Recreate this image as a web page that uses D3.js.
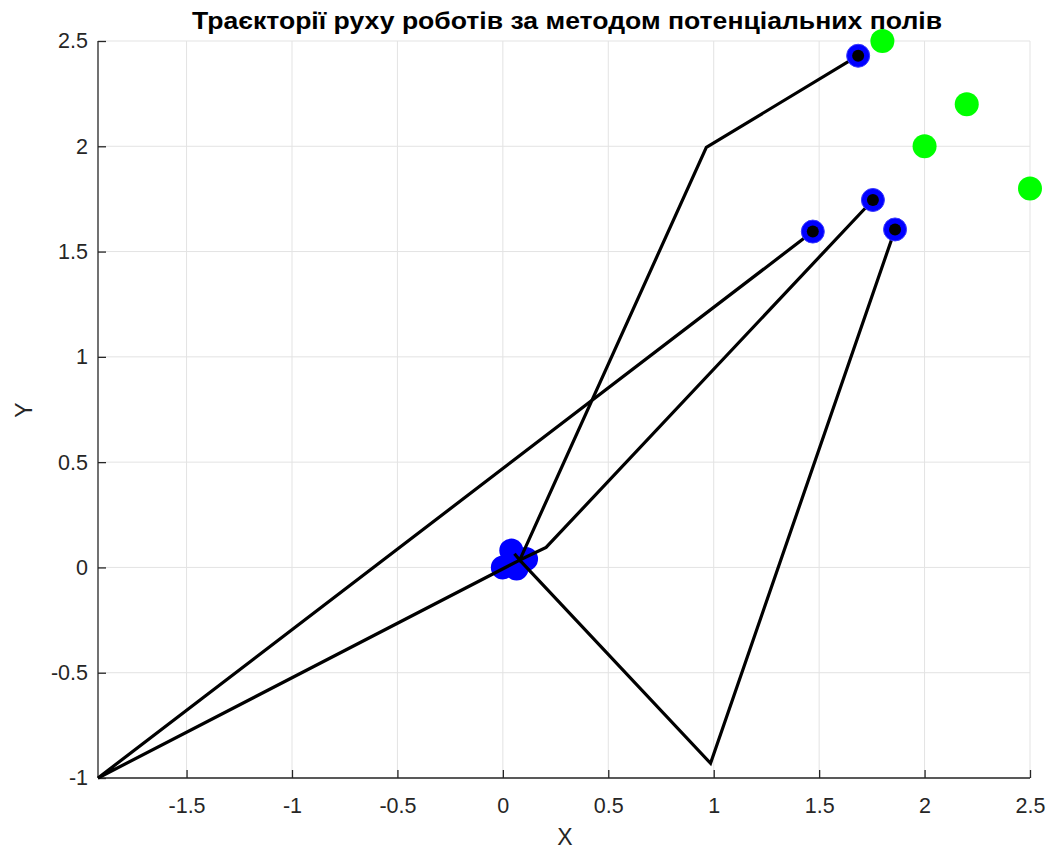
<!DOCTYPE html>
<html>
<head>
<meta charset="utf-8">
<script src="https://cdn.jsdelivr.net/npm/d3@7"></script>
<style>
  body { margin: 0; background: #fff; }
  svg { font-family: "Liberation Sans", Arial, sans-serif; }
</style>
</head>
<body>
<div id="canvas"><svg width="1053" height="850"></svg></div>
<script>
// goals (green)
const goalX = [1.8, 2.2, 2.0, 2.5];
const goalY = [2.5, 2.2, 2.0, 1.8];

// start positions (blue)
const startX = [0.0, 0.04, 0.11, 0.065];
const startY = [0.0, 0.08, 0.04, -0.005];

// trajectories, one per robot
const pathX = [
    [0.08, -1.92, 1.47],
    [0.08, 0.985, 1.86],
    [0.08, 0.205, 1.755],
    [0.055, 0.08, 0.965, 1.685]
];
const pathY = [
    [0.035, -1.0, 1.595],
    [0.035, -0.93, 1.605],
    [0.035, 0.095, 1.745],
    [0.065, 0.035, 1.995, 2.43]
];

const xTicks = [-1.5, -1, -0.5, 0, 0.5, 1, 1.5, 2, 2.5];
const yTicks = [-1, -0.5, 0, 0.5, 1, 1.5, 2, 2.5];

const svg = d3.select("#canvas").select("svg");
const mLeft = 98, mRight = 1030, mTop = 41, mBottom = 778;

const x = d3.scaleLinear().domain([-1.92, 2.5]).range([mLeft, mRight]);
const y = d3.scaleLinear().domain([-1, 2.5]).range([mBottom, mTop]);

const fmt = d => String(d);

// grid
const grid = svg.append("g").attr("class", "grid");
grid.selectAll("line.gx").data(xTicks).join("line")
    .attr("x1", d => x(d)).attr("x2", d => x(d))
    .attr("y1", mTop).attr("y2", mBottom)
    .attr("stroke", "#e3e3e3").attr("stroke-width", 1);
grid.selectAll("line.gy").data(yTicks).join("line")
    .attr("x1", mLeft).attr("x2", mRight)
    .attr("y1", d => y(d)).attr("y2", d => y(d))
    .attr("stroke", "#e3e3e3").attr("stroke-width", 1);

// axes
const xAxis = d3.axisBottom(x).tickValues(xTicks).tickFormat(fmt).tickSizeInner(-8).tickSizeOuter(0).tickPadding(20);
const yAxis = d3.axisLeft(y).tickValues(yTicks).tickFormat(fmt).tickSizeInner(-8).tickSizeOuter(0).tickPadding(10);

const gx = svg.append("g").attr("transform", `translate(0,${mBottom})`).call(xAxis);
const gy = svg.append("g").attr("transform", `translate(${mLeft},0)`).call(yAxis);
[gx, gy].forEach(g => {
    g.select(".domain").attr("stroke", "#262626").attr("stroke-width", 1.3);
    g.selectAll(".tick line").attr("stroke", "#262626").attr("stroke-width", 1.3);
    g.selectAll(".tick text").attr("fill", "#262626").style("font-size", "21.5px");
});
gx.select(".domain").attr("d", `M${mLeft},0H${mRight}`);
gy.select(".domain").attr("d", `M0,${mTop}V${mBottom}`);

// trajectories
const line = d3.line().x(d => x(d[0])).y(d => y(d[1]));
const paths = pathX.map((xs, i) => xs.map((v, j) => [v, pathY[i][j]]));

// start markers
svg.append("g").selectAll("circle").data(startX).join("circle")
    .attr("cx", d => x(d)).attr("cy", (d, i) => y(startY[i]))
    .attr("r", 12).attr("fill", "#0000ff");

svg.append("g").selectAll("path").data(paths).join("path")
    .attr("d", line)
    .attr("fill", "none").attr("stroke", "#000").attr("stroke-width", 3.2)
    .attr("stroke-linejoin", "miter");

// final positions
const ends = paths.map(p => p[p.length - 1]);
svg.append("g").selectAll("circle").data(ends).join("circle")
    .attr("cx", d => x(d[0])).attr("cy", d => y(d[1]))
    .attr("r", 11.5).attr("fill", "#0000ff").attr("stroke", "#3a3aff").attr("stroke-width", 1);
svg.append("g").selectAll("circle").data(ends).join("circle")
    .attr("cx", d => x(d[0])).attr("cy", d => y(d[1]))
    .attr("r", 6).attr("fill", "#000");

// goals
svg.append("g").selectAll("circle").data(goalX).join("circle")
    .attr("cx", d => x(d)).attr("cy", (d, i) => y(goalY[i]))
    .attr("r", 12).attr("fill", "#00ff00");

// labels
svg.append("text")
    .attr("x", 567).attr("y", 29)
    .attr("text-anchor", "middle")
    .attr("font-weight", "bold").style("font-size", "23px")
    .attr("textLength", 750).attr("lengthAdjust", "spacingAndGlyphs")
    .attr("fill", "#000")
    .text("Траєкторії руху роботів за методом потенціальних полів");

svg.append("text")
    .attr("x", 565).attr("y", 845)
    .attr("text-anchor", "middle").style("font-size", "23px").attr("fill", "#262626")
    .text("X");

svg.append("text")
    .attr("transform", "translate(32,410) rotate(-90)")
    .attr("text-anchor", "middle").style("font-size", "23px").attr("fill", "#262626")
    .text("Y");
</script>
</body>
</html>
